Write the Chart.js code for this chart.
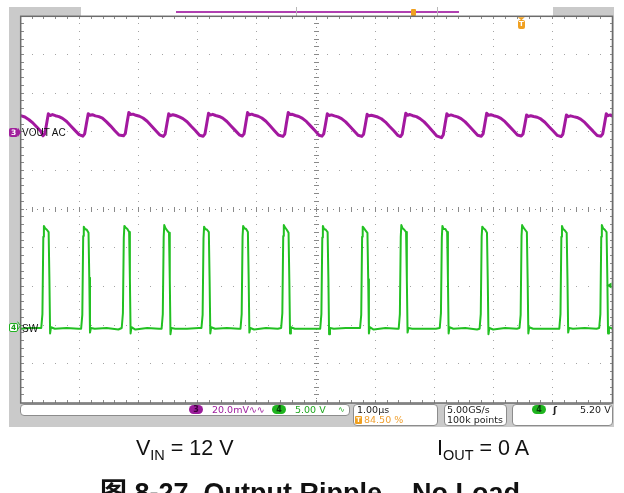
<!DOCTYPE html>
<html><head><meta charset="utf-8">
<script src="https://cdn.jsdelivr.net/npm/chart.js@4.4.1/dist/chart.umd.min.js"></script>
<style>
html,body{margin:0;padding:0;width:624px;height:493px;overflow:hidden;background:#fff;font-family:"Liberation Sans",Arial,sans-serif;}
#frame{position:absolute;left:9px;top:7px;width:605px;height:420px;background:#cacaca;}
#c{position:absolute;left:0;top:0;}
.a{position:absolute;white-space:nowrap;}
.box{position:absolute;background:#fff;border:1px solid #8c8c8c;border-radius:4px;box-sizing:border-box;}
.ft{position:absolute;white-space:nowrap;font-family:"DejaVu Sans",sans-serif;font-size:9.5px;line-height:10px;}
.badge{position:absolute;width:14px;height:9px;border-radius:5px;font-family:"DejaVu Sans",sans-serif;font-size:8px;line-height:9px;text-align:center;font-weight:bold;}
.cap{position:absolute;white-space:nowrap;font-size:21.5px;line-height:21.5px;color:#111;}
.cap sub{font-size:14.5px;vertical-align:-5px;line-height:0;}
</style></head>
<body>
<div id="frame"></div>
<div class="a" style="left:81px;top:7px;width:472px;height:9px;background:#fff;"></div>
<div class="a" style="left:176px;top:11px;width:283px;height:1.5px;background:#b040b0;"></div>
<div class="a" style="left:296px;top:7px;width:1px;height:9px;background:#b8b8b8;"></div>
<div class="a" style="left:437px;top:7px;width:1px;height:9px;background:#b8b8b8;"></div>
<div class="a" style="left:411px;top:9px;width:5px;height:7px;background:#f0a020;border-radius:1px;"></div>
<canvas id="c" width="624" height="493"></canvas>

<div class="a" style="left:518px;top:20px;width:7px;height:9px;background:#f0a020;border-radius:2px;color:#fff;font:bold 7px 'DejaVu Sans';line-height:9px;text-align:center;">T</div>

<div class="a" style="left:9px;top:128px;width:9px;height:9px;background:#a0209c;border-radius:2px;color:#fff;font:bold 7.5px 'DejaVu Sans';line-height:9px;text-align:center;">3</div>
<div class="a" style="left:22px;top:126.5px;font-size:10px;line-height:11px;color:#111;">VOUT AC</div>
<div class="a" style="left:9px;top:323px;width:7px;height:7px;background:#fff;border:1px solid #22b322;border-radius:2px;color:#1a9a1a;font:bold 7.5px 'DejaVu Sans';line-height:7px;text-align:center;">4</div>
<div class="a" style="left:22px;top:322.5px;font-size:10px;line-height:11px;color:#111;">SW</div>

<div class="box" style="left:20px;top:403.5px;width:330px;height:12px;"></div>
<div class="badge" style="left:189px;top:405px;background:#9a1c9a;color:#3a003a;">3</div>
<div class="ft" style="left:212px;top:404.5px;color:#a020a0;">20.0mV∿∿</div>
<div class="badge" style="left:272px;top:405px;background:#1fb51f;color:#0a3a0a;">4</div>
<div class="ft" style="left:295px;top:404.5px;color:#1fa81f;">5.00 V</div>
<div class="ft" style="left:338px;top:404.5px;color:#1fa81f;font-size:8px;">∿</div>

<div class="box" style="left:353px;top:403.5px;width:85px;height:22px;"></div>
<div class="ft" style="left:357px;top:404.5px;color:#222;">1.00µs</div>
<div class="a" style="left:355px;top:415.5px;width:7px;height:8px;background:#f0a020;border-radius:1px;color:#fff;font:bold 6.5px 'DejaVu Sans';line-height:8px;text-align:center;">T</div>
<div class="ft" style="left:364px;top:414.5px;color:#f0a030;">84.50 %</div>

<div class="box" style="left:444px;top:403.5px;width:63px;height:22px;"></div>
<div class="ft" style="left:447px;top:404.5px;color:#222;">5.00GS/s</div>
<div class="ft" style="left:447px;top:414.5px;color:#222;">100k points</div>

<div class="box" style="left:512px;top:403.5px;width:101px;height:22px;"></div>
<div class="badge" style="left:532px;top:405px;background:#1fb51f;color:#0a3a0a;">4</div>
<div class="ft" style="left:553px;top:404.5px;color:#222;font-weight:bold;">ʃ</div>
<div class="ft" style="left:580px;top:404.5px;color:#222;">5.20 V</div>

<div class="cap" style="left:136px;top:438px;">V<sub>IN</sub> = 12 V</div>
<div class="cap" style="left:437px;top:438px;">I<sub>OUT</sub> = 0 A</div>
<div class="a" style="left:100px;top:479.5px;font-weight:bold;font-size:27px;line-height:27px;color:#111;font-family:'Liberation Sans','Noto Sans CJK SC',sans-serif;">图 8-27. Output Ripple – No Load</div>

<script>
// Time axis (µs) spans 10 divisions at 1.00 µs/div, trigger at 84.50 %
const timeMin = -8.45;
const timeMax = 1.55;
// Channel 3 (VOUT AC): 20.0 mV/div, ground marker 2 div above centre
const rippleMvMin = -140;
const rippleMvMax = 60;
// Channel 4 (SW): 5.00 V/div, ground marker 3 div below centre
const swVMin = -10;
const swVMax = 40;
const trigLevelV = 5.2;

// VOUT AC ripple, time (µs) and value (mV)
const rippleTimeUs = [
  -8.45,-8.38,-8.31,-8.24,-8.17,-8.11,
  -8.073,-8.043,-8.013,-7.983,-7.953,-7.913,-7.863,-7.803,-7.743,-7.673,-7.603,-7.533,-7.463,
  -7.399,-7.369,-7.339,-7.309,-7.279,-7.239,-7.189,-7.129,-7.069,-6.999,-6.929,-6.859,-6.789,
  -6.713,-6.683,-6.653,-6.623,-6.593,-6.553,-6.503,-6.443,-6.383,-6.313,-6.243,-6.173,-6.103,
  -6.039,-6.009,-5.979,-5.949,-5.919,-5.879,-5.829,-5.769,-5.709,-5.639,-5.569,-5.499,-5.429,
  -5.366,-5.336,-5.306,-5.276,-5.246,-5.206,-5.156,-5.096,-5.036,-4.966,-4.896,-4.826,-4.756,
  -4.706,-4.676,-4.646,-4.616,-4.586,-4.546,-4.496,-4.436,-4.376,-4.306,-4.236,-4.166,-4.096,
  -4.019,-3.989,-3.959,-3.929,-3.899,-3.859,-3.809,-3.749,-3.689,-3.619,-3.549,-3.479,-3.409,
  -3.359,-3.329,-3.299,-3.269,-3.239,-3.199,-3.149,-3.089,-3.029,-2.959,-2.889,-2.819,-2.749,
  -2.686,-2.656,-2.626,-2.596,-2.566,-2.526,-2.476,-2.416,-2.356,-2.286,-2.216,-2.146,-2.076,
  -2.033,-2.003,-1.973,-1.943,-1.913,-1.873,-1.823,-1.763,-1.703,-1.633,-1.563,-1.493,-1.423,
  -1.339,-1.309,-1.279,-1.249,-1.219,-1.179,-1.129,-1.069,-1.009,-0.939,-0.869,-0.799,-0.729,
  -0.666,-0.636,-0.606,-0.576,-0.546,-0.506,-0.456,-0.396,-0.336,-0.266,-0.196,-0.126,-0.056,
  0.008,0.038,0.068,0.098,0.128,0.168,0.218,0.278,0.338,0.408,0.478,0.548,0.618,
  0.681,0.711,0.741,0.771,0.801,0.841,0.891,0.951,1.011,1.081,1.151,1.221,1.291,
  1.355,1.385,1.415,1.445,1.475,1.515,1.55
];
const rippleMv = [
  8.6,7.9,6.5,4.7,2.5,0.5,
  -1.8,-0.9,4.3,9.6,8.7,9.2,8.6,8.1,7.2,5.6,3.3,1.0,-1.2,
  -2.0,-0.8,4.5,9.6,8.8,9.1,8.5,8.1,7.3,5.4,3.2,0.8,-1.4,
  -1.8,-0.7,5.0,10.3,9.2,9.4,8.8,8.3,7.4,5.7,3.4,1.1,-1.3,
  -2.1,-0.9,4.4,9.6,8.6,9.1,8.7,8.0,7.1,5.5,3.1,0.9,-1.5,
  -2.0,-0.8,4.6,9.9,8.9,9.3,8.7,8.2,7.3,5.6,3.3,1.0,-1.3,
  -1.9,-0.8,4.8,10.2,9.1,9.4,8.8,8.3,7.4,5.7,3.4,1.0,-1.4,
  -2.1,-0.9,4.9,10.2,9.2,9.3,8.7,8.2,7.2,5.5,3.2,0.9,-1.5,
  -2.0,-0.8,4.3,9.6,8.7,9.0,8.5,8.0,7.1,5.4,3.1,0.8,-1.5,
  -2.1,-1.0,4.0,9.3,8.5,8.8,8.4,7.9,7.0,5.3,3.0,0.8,-1.6,
  -2.2,-0.9,4.5,9.9,8.8,9.2,8.6,8.1,7.1,5.4,3.1,0.7,-1.8,
  -2.8,-1.2,4.3,9.6,8.6,9.0,8.5,8.0,7.1,5.4,3.1,0.8,-1.5,
  -2.0,-0.8,4.6,9.9,8.8,9.1,8.6,8.1,7.2,5.5,3.2,0.9,-1.4,
  -1.9,-0.9,3.9,9.0,8.2,8.6,8.2,7.8,6.9,5.2,2.9,0.7,-1.6,
  -2.2,-1.0,3.9,9.0,8.1,8.5,8.1,7.7,6.8,5.1,2.8,0.6,-1.7,
  -2.0,-0.8,4.3,9.6,8.6,9.0,8.4
];

// SW node, time (µs) and value (V)
const swTimeUs = [
  -8.45,-8.30,
  -8.103,-8.083,-8.068,-8.058,-8.038,-8.008,-7.978,-7.965,-7.953,-7.938,-7.873,-7.673,-7.473,
  -7.429,-7.409,-7.394,-7.384,-7.364,-7.334,-7.304,-7.291,-7.279,-7.264,-7.199,-6.999,-6.799,
  -6.743,-6.723,-6.708,-6.698,-6.678,-6.648,-6.618,-6.605,-6.593,-6.578,-6.513,-6.313,-6.113,
  -6.069,-6.049,-6.034,-6.024,-6.004,-5.974,-5.944,-5.931,-5.919,-5.904,-5.839,-5.639,-5.439,
  -5.396,-5.376,-5.361,-5.351,-5.331,-5.301,-5.271,-5.258,-5.246,-5.231,-5.166,-4.966,-4.766,
  -4.736,-4.716,-4.701,-4.691,-4.671,-4.641,-4.611,-4.598,-4.586,-4.571,-4.506,-4.306,-4.106,
  -4.049,-4.029,-4.014,-4.004,-3.984,-3.954,-3.924,-3.911,-3.899,-3.884,-3.819,-3.619,-3.419,
  -3.389,-3.369,-3.354,-3.344,-3.324,-3.294,-3.264,-3.251,-3.239,-3.224,-3.159,-2.959,-2.759,
  -2.716,-2.696,-2.681,-2.671,-2.651,-2.621,-2.591,-2.578,-2.566,-2.551,-2.486,-2.286,-2.086,
  -2.063,-2.043,-2.028,-2.018,-1.998,-1.968,-1.938,-1.925,-1.913,-1.898,-1.833,-1.633,-1.433,
  -1.369,-1.349,-1.334,-1.324,-1.304,-1.274,-1.244,-1.231,-1.219,-1.204,-1.139,-0.939,-0.739,
  -0.696,-0.676,-0.661,-0.651,-0.631,-0.601,-0.571,-0.558,-0.546,-0.531,-0.466,-0.266,-0.066,
  -0.022,-0.002,0.013,0.023,0.043,0.073,0.103,0.116,0.128,0.143,0.208,0.408,0.608,
  0.651,0.671,0.686,0.696,0.716,0.746,0.776,0.789,0.801,0.816,0.881,1.081,1.281,
  1.325,1.345,1.360,1.370,1.390,1.420,1.450,1.463,1.475,1.490,1.550
];
const swVolts = [
  -0.4,-0.3,
  -0.3,1.5,11.5,12.9,12.6,12.4,12.1,6.0,-1.0,-0.2,-0.4,-0.3,-0.4,
  -0.4,1.4,11.6,12.8,12.5,12.4,12.0,6.2,-0.9,-0.3,-0.4,-0.3,-0.5,
  -0.3,1.6,11.4,12.9,12.7,12.5,12.1,6.1,-1.0,-0.2,-0.5,-0.3,-0.4,
  -0.4,1.5,11.5,13.0,12.6,12.3,12.0,6.0,-1.1,-0.3,-0.4,-0.4,-0.3,
  -0.3,1.4,11.3,12.8,12.5,12.4,12.1,5.9,-1.0,-0.2,-0.4,-0.3,-0.4,
  -0.4,1.5,11.5,12.9,12.6,12.5,12.1,6.1,-0.9,-0.3,-0.5,-0.3,-0.4,
  -0.3,1.6,11.6,13.0,12.7,12.4,12.0,6.0,-1.0,-0.2,-0.4,-0.4,-0.4,
  -0.4,1.5,11.4,12.9,12.5,12.4,12.1,6.2,-1.1,-0.3,-0.4,-0.3,-0.3,
  -0.3,1.4,11.5,12.8,12.6,12.3,12.0,6.0,-1.0,-0.2,-0.5,-0.3,-0.4,
  -0.4,1.5,11.5,13.0,12.6,12.4,12.1,5.9,-0.9,-0.3,-0.4,-0.4,-0.4,
  -0.3,1.6,11.4,12.9,12.5,12.5,12.1,6.1,-1.0,-0.2,-0.4,-0.3,-0.5,
  -0.4,1.5,11.5,12.8,12.6,12.4,12.0,6.0,-1.1,-0.3,-0.5,-0.3,-0.4,
  -0.3,1.4,11.6,13.0,12.7,12.4,12.1,6.0,-1.0,-0.2,-0.4,-0.4,-0.4,
  -0.4,1.5,11.5,12.9,12.5,12.3,12.0,6.1,-0.9,-0.3,-0.4,-0.3,-0.4,
  -0.3,1.5,11.5,13.0,12.6,12.4,12.1,6.0,-1.0,-0.2,-0.4
];

const scopeGrid = {
  id: 'scopeGrid',
  beforeDatasetsDraw(chart) {
    const {ctx, chartArea: a, scales} = chart;
    const gx = scales.gx, gy = scales.gy;
    ctx.save();
    ctx.fillStyle = '#ffffff';
    ctx.fillRect(a.left, a.top, a.right - a.left, a.bottom - a.top);
    ctx.fillStyle = '#a4a4a4';
    for (let i = 1; i < 10; i++) {
      if (i === 5) continue;
      const x = gx.getPixelForValue(i);
      for (let j = 1; j < 50; j++) {
        const y = gy.getPixelForValue(-5 + j / 5);
        ctx.fillRect(Math.round(x) - 1, Math.round(y) - 1, 1, 1);
      }
    }
    for (let i = -4; i < 5; i++) {
      if (i === 0) continue;
      const y = gy.getPixelForValue(i);
      for (let j = 1; j < 50; j++) {
        const x = gx.getPixelForValue(j / 5);
        ctx.fillRect(Math.round(x) - 1, Math.round(y) - 1, 1, 1);
      }
    }
    ctx.fillStyle = '#8a8a8a';
    const cx = Math.round(gx.getPixelForValue(5)) - 1;
    const cy = Math.round(gy.getPixelForValue(0)) - 1;
    for (let j = 1; j < 100; j++) {
      const y = gy.getPixelForValue(-5 + j / 10);
      ctx.fillRect(cx, Math.round(y) - 1, 1, 1);
      const x = gx.getPixelForValue(j / 10);
      ctx.fillRect(Math.round(x) - 1, cy, 1, 1);
    }
    for (let j = 1; j < 50; j++) {
      const y = Math.round(gy.getPixelForValue(-5 + j / 5)) - 1;
      ctx.fillRect(cx - 2, y, 5, 1);
      const x = Math.round(gx.getPixelForValue(j / 5)) - 1;
      ctx.fillRect(x, cy - 2, 1, 5);
      ctx.fillRect(Math.round(a.left), y, 3, 1);
      ctx.fillRect(Math.round(a.right) - 3, y, 3, 1);
      ctx.fillRect(x, Math.round(a.top), 1, 3);
      ctx.fillRect(x, Math.round(a.bottom) - 3, 1, 3);
    }
    ctx.restore();
  },
  afterDatasetsDraw(chart) {
    const {ctx, chartArea: a, scales} = chart;
    ctx.save();
    ctx.strokeStyle = '#6c6c6c';
    ctx.lineWidth = 1.5;
    ctx.strokeRect(a.left, a.top, a.right - a.left, a.bottom - a.top);
    const ty = scales.ySw.getPixelForValue(trigLevelV);
    ctx.fillStyle = '#22b322';
    ctx.beginPath();
    ctx.moveTo(a.right - 6, ty);
    ctx.lineTo(a.right - 1, ty - 3);
    ctx.lineTo(a.right - 1, ty + 3);
    ctx.closePath();
    ctx.fill();
    const tx = scales.x.getPixelForValue(0);
    ctx.fillStyle = '#f0a020';
    ctx.beginPath();
    ctx.moveTo(tx - 3, a.top + 1);
    ctx.lineTo(tx + 4, a.top + 1);
    ctx.lineTo(tx + 0.5, a.top + 4);
    ctx.closePath();
    ctx.fill();
    const y3 = scales.yMv.getPixelForValue(0);
    ctx.fillStyle = '#a0209c';
    ctx.beginPath();
    ctx.moveTo(18, y3 - 4.5); ctx.lineTo(21, y3); ctx.lineTo(18, y3 + 4.5); ctx.closePath(); ctx.fill();
    const y4 = scales.ySw.getPixelForValue(0);
    ctx.strokeStyle = '#22b322'; ctx.lineWidth = 1;
    ctx.beginPath();
    ctx.moveTo(17.5, y4 - 4); ctx.lineTo(20.5, y4); ctx.lineTo(17.5, y4 + 4); ctx.stroke();
    ctx.restore();
  }
};

new Chart(document.getElementById('c'), {
  type: 'line',
  data: {
    datasets: [
      {
        label: 'VOUT AC',
        data: rippleTimeUs.map((t, i) => ({x: t, y: rippleMv[i]})),
        xAxisID: 'x', yAxisID: 'yMv',
        borderColor: '#a3189f', borderWidth: 3, borderJoinStyle: 'round', borderCapStyle: 'round',
        pointRadius: 0, tension: 0, fill: false
      },
      {
        label: 'SW',
        data: swTimeUs.map((t, i) => ({x: t, y: swVolts[i]})),
        xAxisID: 'x', yAxisID: 'ySw',
        borderColor: '#22c022', borderWidth: 2, borderJoinStyle: 'round', borderCapStyle: 'round',
        pointRadius: 0, tension: 0, fill: false
      }
    ]
  },
  options: {
    responsive: false,
    animation: false,
    events: [],
    layout: {padding: {left: 20.7, top: 16.3, right: 11.5, bottom: 90}},
    plugins: {legend: {display: false}, tooltip: {enabled: false}},
    scales: {
      x: {type: 'linear', axis: 'x', min: timeMin, max: timeMax, display: false},
      gx: {type: 'linear', axis: 'x', min: 0, max: 10, display: false},
      yMv: {type: 'linear', axis: 'y', min: rippleMvMin, max: rippleMvMax, display: false},
      ySw: {type: 'linear', axis: 'y', min: swVMin, max: swVMax, display: false},
      gy: {type: 'linear', axis: 'y', min: -5, max: 5, display: false}
    }
  },
  plugins: [scopeGrid]
});
</script>
</body></html>
